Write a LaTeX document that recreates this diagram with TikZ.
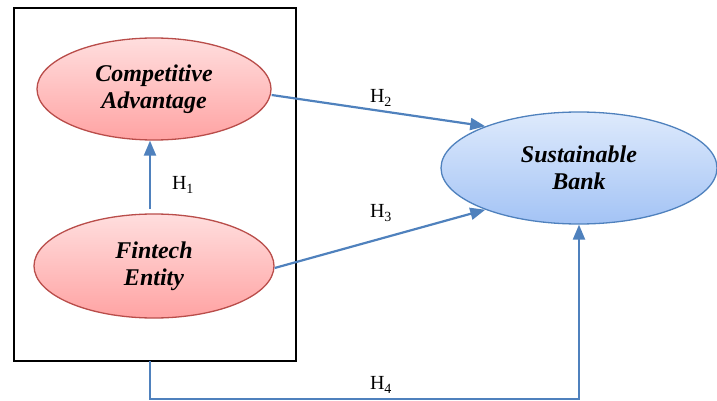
\documentclass[tikz,border=0pt]{standalone}
\usepackage{fontspec}
\setmainfont{Liberation Serif}
\usetikzlibrary{shapes.geometric,arrows.meta}
\definecolor{linkblue}{RGB}{79,129,189}
\definecolor{redline}{RGB}{185,77,74}
\definecolor{redtop}{RGB}{255,222,222}
\definecolor{redbottom}{RGB}{255,163,163}
\definecolor{bluetop}{RGB}{222,234,252}
\definecolor{bluebottom}{RGB}{163,195,245}
\begin{document}
\begin{tikzpicture}[x=1pt,y=-1pt,
    construct/.style={ellipse,draw=redline,line width=1.3pt,top color=redtop,bottom color=redbottom,
      align=center,font=\fontsize{24}{27}\selectfont\bfseries\itshape,inner sep=0pt},
    outcome/.style={construct,draw=linkblue,top color=bluetop,bottom color=bluebottom},
    link/.style={linkblue,line width=2.2pt,-{Triangle[length=15pt,width=12pt]}},
    hyp/.style={text=black,font=\fontsize{20}{22}\selectfont}]
  \useasboundingbox (0,0) rectangle (717,401);
  \node[draw,line width=1.6pt,minimum width=282pt,minimum height=353pt] (frame) at (155,184.5) {};
  \node[construct,minimum width=234pt,minimum height=102pt] (ca) at (154,89) {Competitive\\Advantage};
  \node[construct,minimum width=240pt,minimum height=104pt] (fe) at (154,266) {Fintech\\Entity};
  \node[outcome,minimum width=276pt,minimum height=112pt] (sb) at (579,168) {Sustainable\\Bank};
  % hypotheses
  \coordinate (h1start) at (150,209);
  \draw[link] (h1start) -- (h1start |- ca.south);
  \node[hyp] (h1) at (183,185) {H\textsubscript{1}};
  \draw[link] (ca.east) ++(0,6) coordinate (caout) -- (sb.156);
  \node[hyp] (h2) at (381,98) {H\textsubscript{2}};
  \draw[link] (fe.east) ++(0,2) coordinate (feout) -- (sb.204);
  \node[hyp] (h3) at (381,213) {H\textsubscript{3}};
  \coordinate (h4start) at (150,361);
  \draw[link] (h4start) -- (150,399) -| (sb.south);
  \node[hyp] (h4) at (381,385) {H\textsubscript{4}};
\end{tikzpicture}
\end{document}
